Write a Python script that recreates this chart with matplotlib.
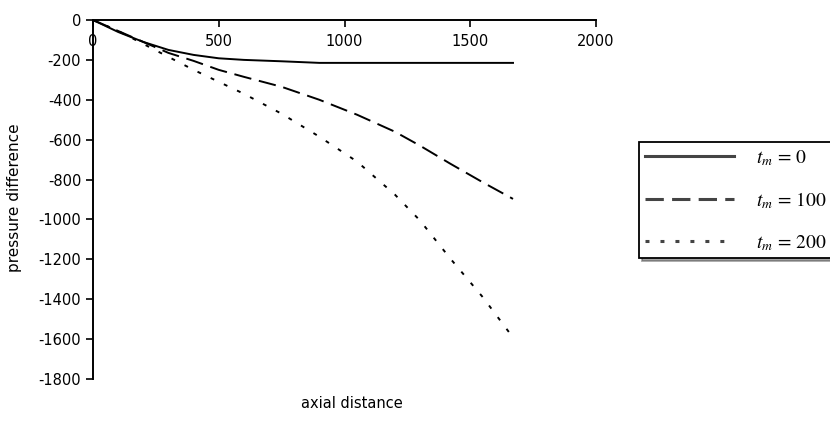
import numpy as np
import matplotlib
matplotlib.use("Agg")
import matplotlib.pyplot as plt

# data
x_vals = [0, 100, 200, 300, 400, 500, 600, 750, 900, 1050, 1200, 1300, 1420, 1550, 1670]
p_tm0 = [0, -60, -110, -150, -175, -192, -200, -207, -215, -215, -215, -215, -215, -215, -215]
p_tm100 = [0, -55, -110, -165, -205, -250, -285, -335, -400, -475, -560, -630, -720, -814, -897]
p_tm200 = [0, -55, -120, -185, -250, -310, -370, -470, -585, -710, -875, -1005, -1195, -1390, -1592]
labels = [r"$t_m\,=\,0$", r"$t_m\,=\,100$", r"$t_m\,=\,200$"]
x_ticks = [0, 500, 1000, 1500, 2000]
y_ticks = list(range(0, -1801, -200))

plt.rcParams['font.family'] = ['DejaVu Sans']
plt.rcParams['mathtext.fontset'] = 'stix'
plt.rcParams['axes.unicode_minus'] = False

fig = plt.figure(figsize=(8.3, 4.24), dpi=100)
ax = fig.add_axes([93 / 830, 1 - 379 / 424, 503 / 830, 359 / 424])

ax.plot(x_vals, p_tm0, color='black', lw=1.4, linestyle='-', label=labels[0])
ax.plot(x_vals, p_tm100, color='black', lw=1.4, linestyle=(0, (9, 4)), label=labels[1])
ax.plot(x_vals, p_tm200, color='black', lw=1.4, linestyle=(0, (2, 5.5)), label=labels[2])

ax.set_xlim(0, 2000)
ax.set_ylim(-1800, 0)
ax.set_xticks(x_ticks)
ax.set_yticks(y_ticks)

# x axis sits on the zero line at the top
ax.spines['bottom'].set_position(('data', 0))
ax.spines['top'].set_visible(False)
ax.spines['right'].set_visible(False)
for s in ['bottom', 'left']:
    ax.spines[s].set_linewidth(1.4)
ax.tick_params(axis='both', direction='out', length=5, width=1.2, labelsize=10.5)
ax.tick_params(axis='x', pad=5)

fig.text(15 / 830, 1 - 198 / 424, 'pressure difference', rotation=90,
         ha='center', va='center', fontsize=11)
fig.text(352 / 830, 1 - 404 / 424, 'axial distance', ha='center', va='center', fontsize=10.5)

leg = fig.legend(loc='upper left', bbox_to_anchor=(639 / 830, 1 - 142 / 424),
                 borderaxespad=0, fontsize=14, handlelength=4.6, handletextpad=1.1,
                 labelspacing=1.15, borderpad=0.3, fancybox=False, shadow=True,
                 framealpha=1)
leg.get_frame().set_edgecolor('black')
leg.get_frame().set_linewidth(1.3)
handle_styles = ['-', (0, (6, 2.7)), (0, (1.3, 3.6))]
for h, ls in zip(leg.legend_handles, handle_styles):
    h.set_linewidth(2.2)
    h.set_color('#444444')
    h.set_linestyle(ls)

fig.savefig('out.png', dpi=100)
